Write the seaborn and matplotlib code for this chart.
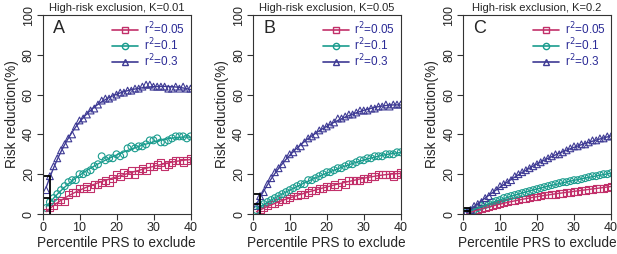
import numpy as np
import pandas as pd
import seaborn as sns
import matplotlib.pyplot as plt
from matplotlib.lines import Line2D

# percentile of PRS excluded
pct = list(range(1, 41))

# panel A, K=0.01
a_r005 = [1, 3, 4, 6, 7, 6, 10, 11, 11, 13, 13, 14, 13, 15, 15, 16, 17, 16, 18, 20,
          19, 21, 20, 22, 20, 22, 23, 22, 24, 24, 25, 26, 24, 25, 26, 27, 27, 26, 27, 28]
a_r01 = [3, 6, 8, 10, 12, 14, 16, 17, 17, 20, 20, 21, 22, 24, 25, 29, 27, 28, 28, 30,
         29, 30, 33, 34, 33, 34, 34, 35, 37, 37, 38, 36, 36, 37, 38, 39, 39, 39, 38, 39]
a_r03 = [12, 19, 24, 28, 32, 35, 38, 40, 44, 47, 48, 50, 52, 53, 55, 57, 58, 58, 59, 60,
         61, 61, 62, 62, 63, 63, 64, 65, 65, 64, 64, 64, 64, 63, 63, 64, 63, 64, 63, 63]

# panel B, K=0.05
b_r005 = [1, 2, 3, 4, 5, 5, 6, 7, 7, 8, 9, 9, 10, 10, 11, 12, 12, 13, 13, 14,
          14, 15, 14, 16, 15, 17, 17, 17, 17, 18, 18, 19, 19, 20, 20, 20, 20, 19, 20, 21]
b_r01 = [2, 4, 5, 6, 7, 8, 9, 10, 11, 12, 13, 14, 15, 15, 17, 17, 18, 19, 20, 21,
         21, 22, 23, 23, 24, 25, 25, 26, 27, 27, 28, 28, 29, 29, 29, 30, 30, 30, 31, 31]
b_r03 = [4, 9, 11, 15, 18, 21, 23, 25, 28, 30, 31, 33, 34, 36, 38, 39, 40, 42, 43, 44,
         45, 46, 48, 48, 49, 50, 50, 51, 52, 52, 52, 53, 53, 54, 54, 55, 54, 55, 55, 55]

# panel C, K=0.2
c_r005 = [0.5, 1, 1.5, 2, 2.5, 3, 3.5, 4, 4.5, 5, 5.5, 6, 6.5, 6.5, 7, 7.5, 7.5, 8, 8.5, 8.5,
          9, 9.5, 9.5, 10, 10, 10.5, 10.5, 11, 11, 11.5, 11.5, 12, 12, 12.5, 12.5, 13, 13, 13, 13.5, 14]
c_r01 = [1, 1.5, 2, 3, 4, 4.5, 5, 6, 6.5, 7, 8, 8.5, 9, 9.5, 10, 10.5, 11, 11.5, 12, 12.5,
         13, 13.5, 14, 14.5, 15, 15.5, 16, 16, 16.5, 17, 17, 17.5, 18, 18.5, 19, 19, 19.5, 20, 20, 20.5]
c_r03 = [1, 2, 4, 5, 6, 8, 9, 11, 12, 14, 15, 16, 17, 19, 20, 21, 22, 23, 24, 25,
         26, 27, 28, 29, 30, 30, 31, 32, 33, 34, 34, 35, 35, 36, 37, 37, 38, 38, 39, 39]

titles = ["High-risk exclusion, K=0.01", "High-risk exclusion, K=0.05", "High-risk exclusion, K=0.2"]
letters = ["A", "B", "C"]
r2_labels = ["0.05", "0.1", "0.3"]
# black marks at 2nd percentile (levels for r2=0.3 and r2=0.1)
mark_x = 2
mark_levels = [[19, 8], [10, 5], [3, 1.5]]

panels = [[a_r005, a_r01, a_r03], [b_r005, b_r01, b_r03], [c_r005, c_r01, c_r03]]

colors = ["#C2306A", "#1A9C8E", "#3E3A94"]
markers = ["s", "o", "^"]
text_blue = "#2B2B96"

sns.set_style("ticks")
plt.rcParams['font.family'] = ['Liberation Sans', 'DejaVu Sans']

fig = plt.figure(figsize=(6.17, 2.54), dpi=100)
lefts = [42.5, 252.7, 463]
axes = [fig.add_axes([l / 617, 1 - 214 / 254, 148 / 617, 199 / 254]) for l in lefts]

for i, ax in enumerate(axes):
    for j, ys in enumerate(panels[i]):
        df = pd.DataFrame({"pct": pct, "red": ys})
        # smooth curve fitted through the points
        coef = np.polyfit(df["pct"], df["red"], 4)
        xs = np.linspace(1, 40, 200)
        sns.lineplot(x=xs, y=np.polyval(coef, xs), ax=ax, color=colors[j], lw=1.0)
        sns.scatterplot(data=df, x="pct", y="red", ax=ax, marker=markers[j],
                        facecolor="none", edgecolor=colors[j], linewidth=0.8, s=24)
    top, mid = mark_levels[i]
    ax.plot([0, mark_x, mark_x], [top, top, 0], color="black", lw=1.3)
    ax.plot([0, mark_x], [mid, mid], color="black", lw=1.3)

    ax.set_xlim(0, 40)
    ax.set_ylim(0, 100)
    ax.set_xticks([0, 10, 20, 30, 40])
    ax.set_yticks([0, 20, 40, 60, 80, 100])
    ax.tick_params(labelsize=9, length=4, width=0.8, color="#333333", pad=1.5)
    for lab in ax.get_yticklabels():
        lab.set_rotation(90)
        lab.set_va("center")
    for s in ax.spines.values():
        s.set_linewidth(0.8)
        s.set_color("#333333")
    ax.set_xlabel("Percentile PRS to exclude", fontsize=9.8, labelpad=2)
    ax.set_ylabel("Risk reduction(%)", fontsize=9.8, labelpad=3)
    ax.set_title(titles[i], fontsize=8, pad=3)
    ax.text(2.8, 93, letters[i], fontsize=13, va="center", ha="left")

    handles = [Line2D([0], [0], color=colors[k], marker=markers[k], markerfacecolor="none",
                      markeredgecolor=colors[k], markersize=4.5, lw=1.2) for k in range(3)]
    leg = ax.legend(handles, ["r$^2$=" + v for v in r2_labels], loc="upper right",
                    frameon=False, fontsize=8.5, handlelength=2.2, handletextpad=0.5,
                    labelspacing=-0.05, borderaxespad=0.15, borderpad=0.3)
    for t in leg.get_texts():
        t.set_color(text_blue)

fig.savefig("out.png", dpi=100)
